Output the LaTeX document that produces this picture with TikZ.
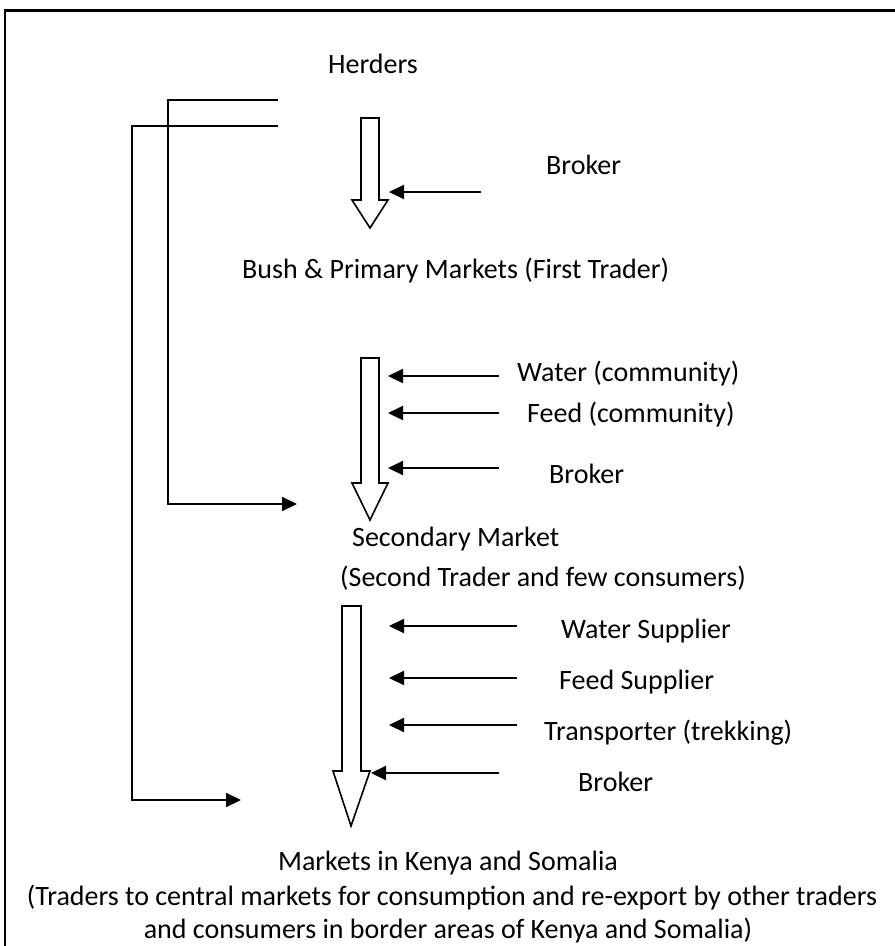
\documentclass[tikz,border=0pt]{standalone}
\usepackage{fontspec}
\setmainfont{Carlito}
\usetikzlibrary{arrows.meta}
\begin{document}
\begin{tikzpicture}[x=1pt,y=-1pt,
  lbl/.style={anchor=base west,inner sep=0pt,font=\fontsize{28}{33}\selectfont},
  clbl/.style={anchor=base,inner sep=0pt,font=\fontsize{28}{33}\selectfont},
  feed/.style={line width=2pt,-{Triangle[length=15pt,width=14pt]}},
  blockarrow/.style={line width=1.6pt,fill=white,line join=miter}]
\useasboundingbox (0,0) rectangle (895,946);
% frame (left and top only)
\draw[line width=2.4pt] (5,946) -- (5,10.5) -- (895,10.5);
% texts
\node[lbl] (herders) at (328,73) {Herders};
\node[lbl] (broker1) at (546,174) {Broker};
\node[lbl] (bush) at (242,278) {Bush \& Primary Markets (First Trader)};
\node[lbl] (water1) at (517,381) {Water (community)};
\node[lbl] (feed1) at (527,422) {Feed (community)};
\node[lbl] (broker2) at (549,483) {Broker};
\node[lbl] (secondary) at (352,546) {Secondary Market};
\node[lbl] (second) at (340,586) {(Second Trader and few consumers)};
\node[lbl] (watersup) at (561,638) {Water Supplier};
\node[lbl] (feedsup) at (559,689) {Feed Supplier};
\node[lbl] (transp) at (544,740) {Transporter (trekking)};
\node[lbl] (broker3) at (578,791) {Broker};
\node[clbl] (mk1) at (448,870) {Markets in Kenya and Somalia};
\node[clbl] (mk2) at (452,905) {(Traders to central markets for consumption and re-export by other traders};
\node[clbl] (mk3) at (448,938) {and consumers in border areas of Kenya and Somalia)};
% block arrows
\draw[blockarrow] (361,118) -- (379,118) -- (379,200) -- (388,200) -- (370,228) -- (352,200) -- (361,200) -- cycle;
\draw[blockarrow] (361,358) -- (379,358) -- (379,483) -- (388,483) -- (370,520) -- (352,483) -- (361,483) -- cycle;
\draw[blockarrow] (342,606) -- (361,606) -- (361,771) -- (370,771) -- (351,826) -- (333,771) -- (342,771) -- cycle;
% feeding arrows
\coordinate (b1s) at (481,192); \coordinate (b1e) at (389,192);
\draw[feed] (b1s) -- (b1e);
\coordinate (w1s) at (499,376); \coordinate (w1e) at (388,376);
\draw[feed] (w1s) -- (w1e);
\coordinate (f1s) at (499,413); \coordinate (f1e) at (388,413);
\draw[feed] (f1s) -- (f1e);
\coordinate (b2s) at (499,468); \coordinate (b2e) at (388,468);
\draw[feed] (b2s) -- (b2e);
\coordinate (w2s) at (517,626); \coordinate (w2e) at (389,626);
\draw[feed] (w2s) -- (w2e);
\coordinate (f2s) at (517,678); \coordinate (f2e) at (389,678);
\draw[feed] (f2s) -- (f2e);
\coordinate (t2s) at (517,725); \coordinate (t2e) at (389,725);
\draw[feed] (t2s) -- (t2e);
\coordinate (b3s) at (499,773); \coordinate (b3e) at (371,773);
\draw[feed] (b3s) -- (b3e);
% bypass lines
\coordinate (l1s) at (278,100); \coordinate (l1e) at (297,504);
\draw[feed] (l1s) -- (168,100) -- (168,504) -- (l1e);
\coordinate (l2s) at (278,126); \coordinate (l2e) at (241,800);
\draw[feed] (l2s) -- (131.5,126) -- (131.5,800) -- (l2e);
\end{tikzpicture}
\end{document}
